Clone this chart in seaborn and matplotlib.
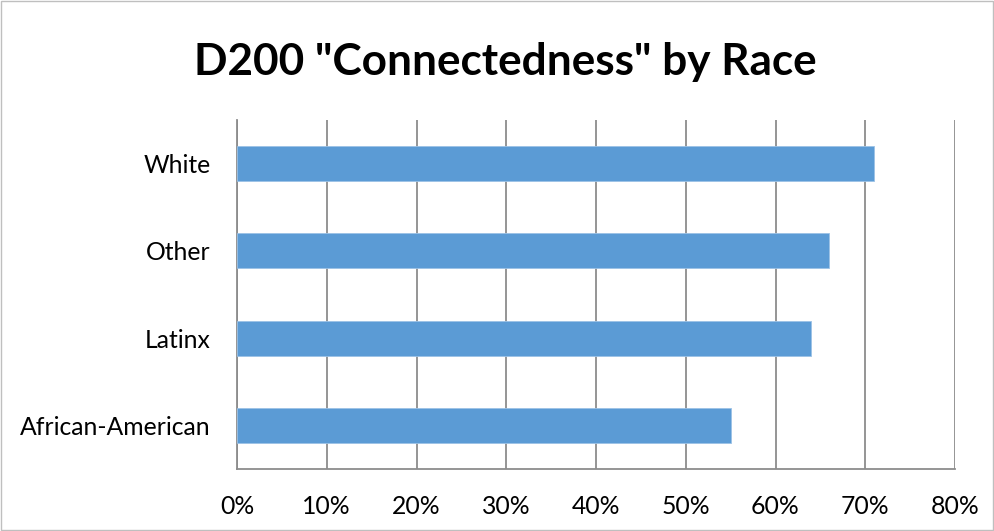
import matplotlib
matplotlib.use("Agg")
import matplotlib.pyplot as plt
import matplotlib.ticker as mticker
import seaborn as sns
import pandas as pd

races = ["White", "Other", "Latinx", "African-American"]
connected_pct = [71, 66, 64, 55]
x_ticks = [0, 10, 20, 30, 40, 50, 60, 70, 80]

df = pd.DataFrame({"race": races, "pct": connected_pct})

sns.set_style("white")
plt.rcParams["font.family"] = ["Lato", "DejaVu Sans"]

fig = plt.figure(figsize=(9.94, 5.31), dpi=100)
ax = fig.add_axes([237 / 994, 1 - 469 / 531, (955 - 237) / 994, (469 - 120) / 531])

grid_col = "#8c8c8c"
sns.barplot(data=df, x="pct", y="race", order=races, color="#5B9BD5",
            width=0.4, orient="h", saturation=1, ax=ax, zorder=3,
            edgecolor="#9cc2e6", linewidth=0.6)

ax.set_xlim(0, 80)
ax.set_ylim(3.5, -0.5)
ax.set_xticks(x_ticks)
ax.xaxis.set_major_formatter(mticker.FuncFormatter(lambda v, p: f"{v:.0f}%"))
ax.grid(axis="x", color=grid_col, linewidth=1.3, zorder=0)
ax.set_axisbelow(True)

# category boundary ticks on the y axis
ax.set_yticks([-0.5, 0.5, 1.5, 2.5, 3.5], minor=True)
ax.tick_params(axis="y", which="major", length=0, pad=19, labelsize=17.8, labelcolor="black")
ax.tick_params(axis="y", which="minor", length=8, width=1.2, color=grid_col, direction="out")
ax.tick_params(axis="x", which="major", length=8, width=1.2, color=grid_col, direction="out",
               pad=11, labelsize=17.8, labelcolor="black")

for side in ["top", "right"]:
    ax.spines[side].set_visible(False)
for side in ["left", "bottom"]:
    ax.spines[side].set_color(grid_col)
    ax.spines[side].set_linewidth(1.3)

ax.set_xlabel("")
ax.set_ylabel("")

fig.text(505 / 994, 1 - 62 / 531, 'D200 "Connectedness" by Race', ha="center", va="center",
         fontsize=31.8, fontweight="bold", color="black")

# thin frame around the whole chart area
fig.patches.append(plt.Rectangle((0.001, 0.001), 0.998, 0.998, transform=fig.transFigure,
                                 fill=False, edgecolor="#bfbfbf", linewidth=1))

fig.savefig("out.png", dpi=100)
